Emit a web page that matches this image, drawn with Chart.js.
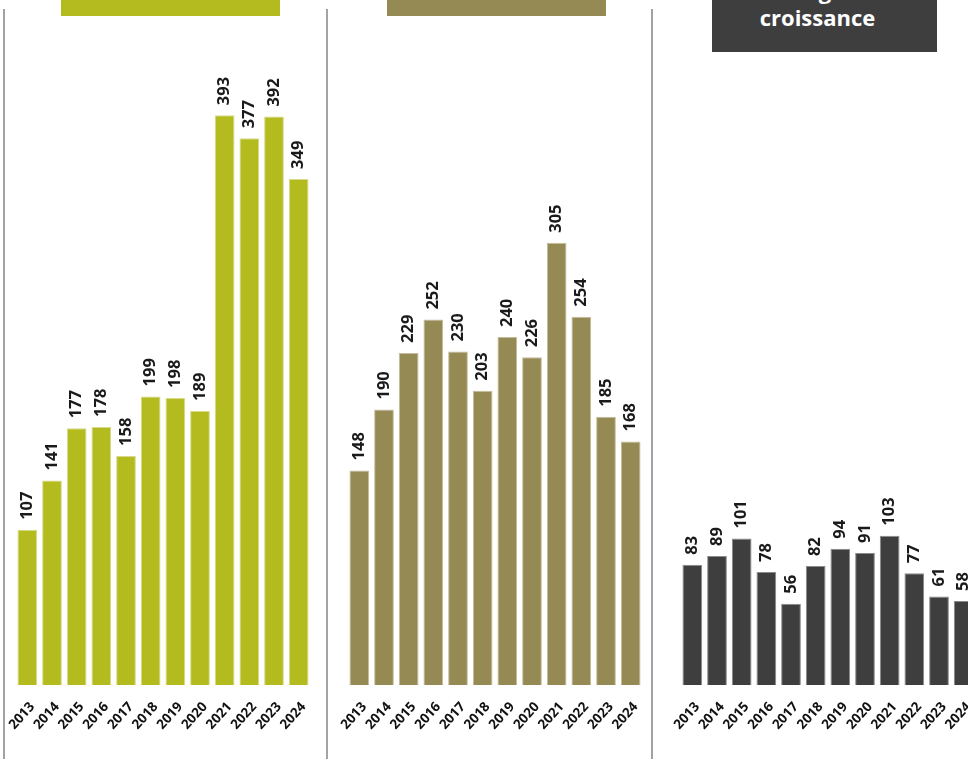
<!DOCTYPE html>
<html>
<head>
<meta charset="utf-8">
<script src="https://cdn.jsdelivr.net/npm/chart.js@4.4.0/dist/chart.umd.min.js"></script>
<style>
  html, body { margin: 0; padding: 0; background: #fff; }
  body { width: 968px; height: 759px; overflow: hidden; position: relative; font-family: "Open Sans", sans-serif; }
  .divider { position: absolute; top: 9px; bottom: 0; width: 2px; background: #a3a3a3; }
  .head { position: absolute; top: 0; color: #fff; font-weight: 700; font-size: 22px; line-height: 27px; text-align: center; }
  .wrap { position: absolute; top: 0; height: 759px; }
</style>
</head>
<body>
<div class="divider" style="left:3px"></div>
<div class="divider" style="left:326px"></div>
<div class="divider" style="left:651px"></div>

<div class="head" style="left:61px;width:219px;height:16px;background:#b4bb1f"></div>
<div class="head" style="left:387px;width:219px;height:16px;background:#958a53"></div>
<div class="head" style="left:712px;width:225px;height:52px;background:#3e3e3e">
  <div style="position:absolute;left:0;width:211px;top:-23px">Stratégie de</div>
  <div style="position:absolute;left:0;width:211px;top:4px">croissance</div>
</div>

<div class="wrap" style="left:-5px;width:326px"><canvas id="c1"></canvas></div>
<div class="wrap" style="left:327px;width:326px"><canvas id="c2"></canvas></div>
<div class="wrap" style="left:660px;width:326px"><canvas id="c3"></canvas></div>

<script>
// categories shared by the three panels
const years = ['2013', '2014', '2015', '2016', '2017', '2018', '2019', '2020', '2021', '2022', '2023', '2024'];

// values
const panelOne = [107, 141, 177, 178, 158, 199, 198, 189, 393, 377, 392, 349];
const panelTwo = [148, 190, 229, 252, 230, 203, 240, 226, 305, 254, 185, 168];
const panelThree = [83, 89, 101, 78, 56, 82, 94, 91, 103, 77, 61, 58];

// the three panels share one vertical scale
const yMax = 400;

// draws the value above each bar, turned to read upward
const valueLabels = {
  id: 'valueLabels',
  afterDatasetsDraw(chart) {
    const ctx = chart.ctx;
    const meta = chart.getDatasetMeta(0);
    const values = chart.data.datasets[0].data;
    ctx.save();
    ctx.font = 'bold 16.5px "Open Sans"';
    ctx.fillStyle = '#1a1a1a';
    ctx.textAlign = 'left';
    ctx.textBaseline = 'middle';
    meta.data.forEach((bar, i) => {
      ctx.save();
      ctx.translate(bar.x, bar.y - 10);
      ctx.rotate(-Math.PI / 2);
      ctx.fillText(values[i], 0, 0);
      ctx.restore();
    });
    ctx.restore();
  }
};

function makePanel(id, values, colour, edge) {
  return new Chart(document.getElementById(id), {
    type: 'bar',
    data: {
      labels: years,
      datasets: [{
        data: values,
        backgroundColor: colour,
        borderColor: edge,
        borderWidth: 1,
        categoryPercentage: 1,
        barPercentage: 0.8
      }]
    },
    options: {
      responsive: true,
      maintainAspectRatio: false,
      animation: false,
      layout: { padding: { left: 20, right: 10, top: 105, bottom: 0 } },
      plugins: { legend: { display: false }, tooltip: { enabled: false } },
      scales: {
        x: {
          grid: { display: false },
          border: { display: false },
          ticks: {
            color: '#111',
            font: { family: 'Open Sans', weight: 'bold', size: 13.5 },
            minRotation: 48,
            maxRotation: 48,
            padding: 6,
            labelOffset: 5,
            autoSkip: false
          },
          afterFit(scale) { scale.height = 74; }
        },
        y: {
          display: false,
          min: 0,
          max: yMax
        }
      }
    },
    plugins: [valueLabels]
  });
}

makePanel('c1', panelOne, '#b4bb1f', '#d6da8a');
makePanel('c2', panelTwo, '#958a53', '#c4bd9c');
makePanel('c3', panelThree, '#3e3e3e', '#8a8a8a');
</script>
</body>
</html>
